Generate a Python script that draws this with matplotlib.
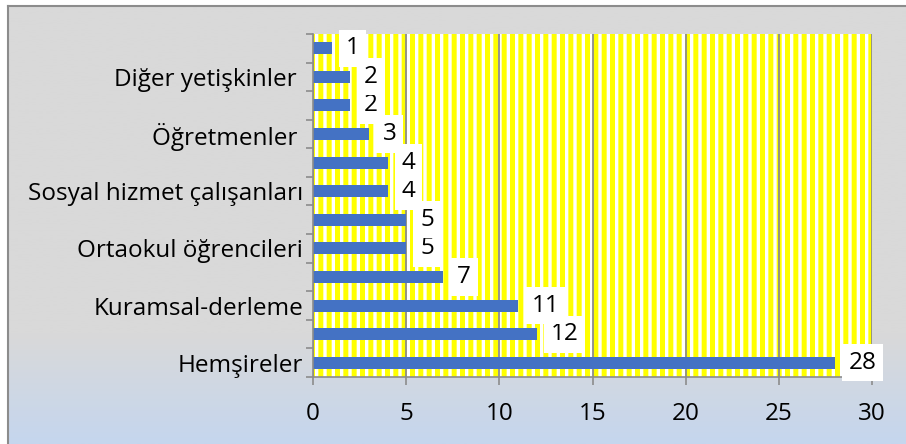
import matplotlib
matplotlib.use("Agg")
import matplotlib.pyplot as plt
from matplotlib.patches import Rectangle
import numpy as np

# bottom to top; labels Excel skipped are unknown, left blank
categories = ["Hemşireler", "", "Kuramsal-derleme", "", "Ortaokul öğrencileri", "",
              "Sosyal hizmet çalışanları", "", "Öğretmenler ", "", "Diğer yetişkinler ", ""]
values = [28, 12, 11, 7, 5, 5, 4, 4, 3, 2, 2, 1]
x_ticks = [0, 5, 10, 15, 20, 25, 30]

plt.rcParams['font.family'] = ['Open Sans', 'DejaVu Sans']
plt.rcParams['hatch.linewidth'] = 3.6

W, H = 906, 444
fig = plt.figure(figsize=(W / 100, H / 100), dpi=100)
fig.patch.set_facecolor('white')

# chart area background: grey fading to light blue near the bottom
bg = fig.add_axes([8 / W, 0, 1 - 8 / W, 1 - 6 / H], zorder=-5)
rows = np.linspace(0, 1, 200)
top = np.array([217, 217, 217]) / 255
bot = np.array([197, 214, 238]) / 255
t = np.clip((rows - 0.75) / 0.25, 0, 1)
grad = top[None, :] * (1 - t[:, None]) + bot[None, :] * t[:, None]
bg.imshow(grad[:, None, :], aspect='auto', extent=[0, 1, 1, 0])
bg.set_xlim(0, 1)
bg.set_ylim(1, 0)
bg.set_xticks([])
bg.set_yticks([])
for s in ['right', 'bottom']:
    bg.spines[s].set_visible(False)
for s in ['left', 'top']:
    bg.spines[s].set_color('#8c8c8c')
    bg.spines[s].set_linewidth(1.5)

ax = fig.add_axes([313 / W, 1 - 377 / H, (872 - 313) / W, (377 - 34) / H])
ax.set_facecolor('white')
ax.add_patch(Rectangle((0, 0), 1, 1, transform=ax.transAxes, facecolor='white',
                       edgecolor='#ffff00', lw=0, hatch='||', zorder=0))

y = np.arange(len(values))
ax.barh(y, values, height=0.42, color='#4472c4', zorder=2)

for yi, v in zip(y, values):
    ax.annotate(str(v), xy=(v, yi), xytext=(10, 0), textcoords='offset points',
                ha='left', va='center', fontsize=17.5, color='black', zorder=5,
                bbox=dict(boxstyle='square,pad=0.27', fc='white', ec='none'),
                annotation_clip=False)

ax.set_xlim(0, 30)
ax.set_ylim(-0.5, len(values) - 0.5)
ax.set_xticks(x_ticks)
ax.set_xticklabels([str(v) for v in x_ticks])
ax.xaxis.grid(True, color='#8c8c8c', lw=1.3, zorder=1)
ax.set_axisbelow(True)

ax.set_yticks(y[::2])
ax.set_yticklabels(categories[::2])
ax.set_yticks(np.arange(-0.5, len(values)), minor=True)
ax.tick_params(axis='y', which='major', length=0, pad=7, labelsize=17.5)
ax.tick_params(axis='y', which='minor', length=5, color='#8c8c8c', width=1.2)
ax.tick_params(axis='x', length=6, color='#8c8c8c', width=1.2, pad=12, labelsize=17.5)

for s in ['top', 'right']:
    ax.spines[s].set_visible(False)
for s in ['left', 'bottom']:
    ax.spines[s].set_color('#8c8c8c')
    ax.spines[s].set_linewidth(1.2)

fig.savefig('out.png', dpi=100)
